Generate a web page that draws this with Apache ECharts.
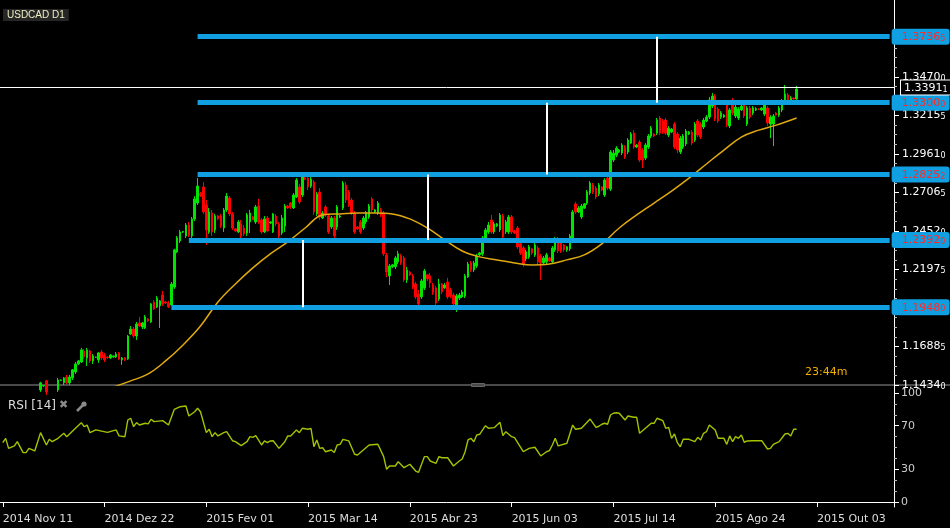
<!DOCTYPE html>
<html><head><meta charset="utf-8">
<script src="https://cdn.jsdelivr.net/npm/echarts@6/dist/echarts.min.js"></script>
<style>html,body{margin:0;padding:0;background:#000;}#c{width:950px;height:528px;}</style>
</head><body><div id="c"></div>
<script>
// ---------- data ----------
const symbolName = 'USDCAD D1';
const firstBarDate = '2014-11-12';   // bars Sun..Fri, one category per bar
const barCount = 308;                 // incl. empty future bars
const tickLabels = ['2014 Nov 11','2014 Dez 22','2015 Fev 01','2015 Mar 14','2015 Abr 23','2015 Jun 03','2015 Jul 14','2015 Ago 24','2015 Out 03'];
const firstTick = 1, tickEvery = 35;
const priceTicks = [1.1434, 1.16885, 1.1943, 1.21975, 1.2452, 1.27065, 1.2961, 1.32155, 1.3470];
const rsiTicks = [0, 30, 70, 100];
const rsiMinor = [10, 20, 40, 50, 60, 80, 90];
const candleStart = 14;
// [open, close, low, high]
const candlesNovDec = [
 [1.1401,1.1448,1.1388,1.1455],
 [1.1428,1.1430,1.1422,1.1434],[1.1461,1.1388,1.1368,1.1467],[1.1388,1.1415,1.1362,1.1428],[1.1415,1.1388,1.1375,1.1428],[1.1388,1.1408,1.1368,1.1421],[1.1401,1.1467,1.1388,1.1481],
 [1.1464,1.1467,1.1461,1.1471],[1.1448,1.1481,1.1434,1.1487],[1.1487,1.1448,1.1441,1.1501],[1.1448,1.1487,1.1434,1.1501],[1.1481,1.1534,1.1467,1.1540],[1.1520,1.1573,1.1507,1.1586],
 [1.1573,1.1593,1.1567,1.1600],[1.1586,1.1666,1.1580,1.1679],[1.1659,1.1619,1.1606,1.1672],[1.1613,1.1666,1.1560,1.1679],[1.1659,1.1593,1.1580,1.1666],[1.1593,1.1626,1.1573,1.1639],
 [1.1616,1.1619,1.1613,1.1622],[1.1600,1.1646,1.1580,1.1652],[1.1652,1.1613,1.1600,1.1666],[1.1632,1.1600,1.1586,1.1646],[1.1619,1.1616,1.1606,1.1626],[1.1613,1.1632,1.1606,1.1639],
 [1.1619,1.1626,1.1616,1.1629],[1.1619,1.1639,1.1613,1.1652],[1.1646,1.1606,1.1600,1.1652],[1.1600,1.1613,1.1567,1.1619],[1.1613,1.1600,1.1593,1.1619],[1.1606,1.1758,1.1600,1.1765]
];
const candlesJanFeb = [
 [1.1771,1.1804,1.1765,1.1824],[1.1804,1.1758,1.1745,1.1818],[1.1758,1.1837,1.1732,1.1851],[1.1844,1.1824,1.1818,1.1884],[1.1818,1.1844,1.1804,1.1851],[1.1811,1.1884,1.1804,1.1897],
 [1.1871,1.1857,1.1851,1.1877],[1.1851,1.1970,1.1844,1.1976],[1.1983,1.1937,1.1930,1.1996],[1.1950,1.2009,1.1943,1.2023],[1.1957,1.1990,1.1811,1.1996],[1.2029,1.1970,1.1957,1.2056],
 [1.1983,1.1976,1.1970,1.1990],[1.1976,1.1950,1.1943,1.1990],[1.1963,1.2102,1.1957,1.2115],[1.2082,1.2327,1.2069,1.2334],[1.2314,1.2406,1.2307,1.2419],[1.2386,1.2446,1.2373,1.2459],
 [1.2446,1.2449,1.2439,1.2452],[1.2419,1.2492,1.2406,1.2505],[1.2492,1.2426,1.2413,1.2512],[1.2419,1.2532,1.2406,1.2545],[1.2532,1.2664,1.2518,1.2683],[1.2637,1.2749,1.2624,1.2802],
 [1.2703,1.2683,1.2677,1.2710],[1.2743,1.2578,1.2565,1.2776],[1.2624,1.2459,1.2360,1.2657],[1.2446,1.2578,1.2433,1.2604],[1.2571,1.2446,1.2419,1.2591],[1.2459,1.2551,1.2439,1.2565],
 [1.2551,1.2532,1.2525,1.2558],[1.2551,1.2485,1.2472,1.2565],[1.2472,1.2591,1.2446,1.2604],[1.2591,1.2683,1.2578,1.2703],[1.2670,1.2565,1.2551,1.2683],[1.2565,1.2472,1.2459,1.2578]
];
const candlesMarApr = [
 [1.2466,1.2452,1.2446,1.2472],[1.2446,1.2512,1.2439,1.2525],[1.2499,1.2419,1.2373,1.2525],[1.2472,1.2433,1.2419,1.2492],[1.2439,1.2558,1.2419,1.2571],[1.2512,1.2571,1.2439,1.2591],
 [1.2545,1.2525,1.2525,1.2551],[1.2512,1.2611,1.2499,1.2624],[1.2617,1.2512,1.2499,1.2664],[1.2525,1.2446,1.2433,1.2538],[1.2446,1.2532,1.2439,1.2551],[1.2538,1.2452,1.2446,1.2551],
 [1.2505,1.2512,1.2499,1.2518],[1.2446,1.2565,1.2439,1.2571],[1.2551,1.2499,1.2485,1.2565],[1.2499,1.2419,1.2406,1.2512],[1.2439,1.2538,1.2426,1.2558],[1.2485,1.2617,1.2446,1.2631],
 [1.2617,1.2604,1.2598,1.2624],[1.2637,1.2611,1.2598,1.2644],[1.2604,1.2690,1.2598,1.2703],[1.2677,1.2789,1.2670,1.2802],[1.2743,1.2644,1.2631,1.2763],[1.2690,1.2809,1.2677,1.2822],
 [1.2802,1.2795,1.2789,1.2809],[1.2802,1.2743,1.2723,1.2815],[1.2749,1.2795,1.2736,1.2809],[1.2776,1.2578,1.2558,1.2789],[1.2565,1.2697,1.2551,1.2710],[1.2710,1.2545,1.2525,1.2736],
 [1.2538,1.2571,1.2532,1.2584],[1.2611,1.2558,1.2545,1.2624],[1.2551,1.2446,1.2433,1.2565],[1.2479,1.2538,1.2466,1.2551],[1.2538,1.2419,1.2406,1.2551],[1.2479,1.2611,1.2459,1.2624],
 [1.2545,1.2551,1.2538,1.2558],[1.2604,1.2769,1.2591,1.2782],[1.2756,1.2657,1.2637,1.2776],[1.2710,1.2624,1.2611,1.2723],[1.2657,1.2571,1.2558,1.2670],[1.2571,1.2446,1.2433,1.2584],
 [1.2479,1.2466,1.2459,1.2485],[1.2512,1.2446,1.2433,1.2525],[1.2472,1.2538,1.2459,1.2551],[1.2512,1.2571,1.2499,1.2584],[1.2545,1.2617,1.2532,1.2631],[1.2664,1.2591,1.2578,1.2677],
 [1.2578,1.2591,1.2571,1.2598],[1.2571,1.2637,1.2558,1.2650],[1.2591,1.2558,1.2545,1.2604],[1.2571,1.2301,1.2287,1.2584],[1.2294,1.2181,1.2148,1.2307],[1.2155,1.2221,1.2095,1.2234],
 [1.2215,1.2228,1.2208,1.2234],[1.2215,1.2274,1.2201,1.2287],[1.2248,1.2301,1.2234,1.2320],[1.2287,1.2241,1.2228,1.2301],[1.2274,1.2129,1.2115,1.2287],[1.2129,1.2195,1.2109,1.2215],
 [1.2181,1.2162,1.2155,1.2188],[1.2155,1.2082,1.2069,1.2168],[1.2102,1.2016,1.2003,1.2115],[1.2036,1.1970,1.1957,1.2062],[1.2016,1.2122,1.2003,1.2135],[1.2076,1.2188,1.2062,1.2201],
 [1.2162,1.2135,1.2122,1.2168],[1.2155,1.2109,1.2076,1.2175],[1.2095,1.2043,1.2029,1.2109],[1.2076,1.1976,1.1963,1.2089],[1.2003,1.2102,1.1990,1.2135],[1.2102,1.2049,1.2036,1.2109]
];
const candlesMayJun = [
 [1.2076,1.2095,1.2069,1.2109],[1.2115,1.2016,1.2003,1.2142],[1.2062,1.2023,1.2009,1.2076],[1.2029,1.1970,1.1950,1.2043],[1.1963,1.2023,1.1917,1.2036],[1.2009,1.2029,1.1996,1.2043],
 [1.2016,1.2049,1.2009,1.2062],[1.2023,1.2155,1.2009,1.2168],[1.2148,1.2234,1.2142,1.2248],[1.2241,1.2195,1.2181,1.2254],[1.2195,1.2241,1.2181,1.2254],[1.2221,1.2287,1.2208,1.2301],
 [1.2294,1.2307,1.2287,1.2314],[1.2301,1.2406,1.2287,1.2419],[1.2393,1.2459,1.2380,1.2472],[1.2446,1.2492,1.2433,1.2512],[1.2525,1.2446,1.2433,1.2558],[1.2446,1.2499,1.2433,1.2512],
 [1.2485,1.2499,1.2479,1.2505],[1.2459,1.2558,1.2446,1.2571],[1.2551,1.2413,1.2373,1.2565],[1.2446,1.2512,1.2433,1.2525],[1.2446,1.2545,1.2433,1.2558],[1.2545,1.2446,1.2433,1.2558],
 [1.2452,1.2439,1.2433,1.2459],[1.2472,1.2347,1.2334,1.2485],[1.2367,1.2307,1.2294,1.2380],[1.2340,1.2234,1.2215,1.2353],[1.2268,1.2314,1.2254,1.2327],[1.2281,1.2347,1.2268,1.2360],
 [1.2334,1.2307,1.2294,1.2340],[1.2294,1.2360,1.2281,1.2373],[1.2340,1.2248,1.2228,1.2353],[1.2287,1.2241,1.2129,1.2301],[1.2241,1.2274,1.2228,1.2287],[1.2248,1.2294,1.2234,1.2307],
 [1.2274,1.2254,1.2248,1.2281],[1.2248,1.2340,1.2234,1.2353],[1.2327,1.2393,1.2314,1.2413],[1.2400,1.2320,1.2307,1.2413],[1.2373,1.2320,1.2307,1.2386],[1.2360,1.2327,1.2314,1.2367],
 [1.2327,1.2347,1.2314,1.2353],[1.2334,1.2419,1.2320,1.2433],[1.2406,1.2578,1.2393,1.2591],[1.2631,1.2578,1.2565,1.2644],[1.2578,1.2604,1.2571,1.2617],[1.2545,1.2617,1.2532,1.2631]
];
const candlesJulAug = [
 [1.2604,1.2631,1.2598,1.2637],[1.2637,1.2710,1.2624,1.2723],[1.2703,1.2769,1.2690,1.2782],[1.2756,1.2710,1.2697,1.2769],[1.2736,1.2677,1.2664,1.2749],[1.2697,1.2756,1.2683,1.2769],
 [1.2743,1.2723,1.2716,1.2749],[1.2690,1.2789,1.2677,1.2802],[1.2802,1.2736,1.2723,1.2815],[1.2729,1.2974,1.2716,1.2987],[1.2921,1.2967,1.2908,1.2987],[1.2954,1.3000,1.2941,1.3013],
 [1.2974,1.2987,1.2967,1.2994],[1.2967,1.3020,1.2954,1.3033],[1.3007,1.2941,1.2928,1.3020],[1.2974,1.3053,1.2961,1.3066],[1.3033,1.3093,1.3027,1.3106],[1.3099,1.3007,1.2994,1.3119],
 [1.3007,1.3020,1.3000,1.3027],[1.3040,1.2921,1.2908,1.3053],[1.2987,1.2921,1.2868,1.3000],[1.2934,1.3020,1.2921,1.3033],[1.3007,1.3080,1.2994,1.3093],[1.3080,1.3132,1.3066,1.3146],
 [1.3093,1.3080,1.3073,1.3099],[1.3099,1.3185,1.3086,1.3199],[1.3199,1.3099,1.3086,1.3212],[1.3179,1.3106,1.3093,1.3192],[1.3185,1.3099,1.3086,1.3199],[1.3086,1.3132,1.3073,1.3146],
 [1.3106,1.3126,1.3099,1.3132],[1.3159,1.3007,1.2994,1.3172],[1.3093,1.2987,1.2967,1.3106],[1.2974,1.3066,1.2961,1.3080],[1.3007,1.3080,1.2994,1.3093],[1.3027,1.3113,1.3013,1.3126],
 [1.3093,1.3106,1.3086,1.3113],[1.3106,1.3033,1.3020,1.3119],[1.3053,1.3159,1.3040,1.3172],[1.3179,1.3086,1.3073,1.3192],[1.3159,1.3073,1.3060,1.3172],[1.3139,1.3185,1.3126,1.3199],
 [1.3179,1.3205,1.3172,1.3218],[1.3205,1.3318,1.3192,1.3338],[1.3278,1.3344,1.3265,1.3364],[1.3344,1.3192,1.3179,1.3358],[1.3258,1.3179,1.3166,1.3271],[1.3205,1.3232,1.3192,1.3245]
];
const candlesSep = [
 [1.3205,1.3218,1.3199,1.3225],[1.3305,1.3152,1.3139,1.3318],[1.3146,1.3252,1.3132,1.3265],[1.3318,1.3232,1.3218,1.3331],[1.3212,1.3271,1.3199,1.3285],[1.3199,1.3258,1.3185,1.3271],
 [1.3252,1.3278,1.3245,1.3291],[1.3291,1.3212,1.3199,1.3305],[1.3159,1.3265,1.3146,1.3278],[1.3265,1.3205,1.3192,1.3278],[1.3232,1.3265,1.3218,1.3278],[1.3252,1.3261,1.3245,1.3271],
 [1.3258,1.3255,1.3252,1.3265],[1.3252,1.3265,1.3245,1.3271],[1.3225,1.3285,1.3212,1.3298],[1.3265,1.3166,1.3146,1.3278],[1.3159,1.3205,1.3066,1.3218],[1.3159,1.3212,1.3013,1.3225],
 [1.3232,1.3218,1.3212,1.3238],[1.3218,1.3265,1.3205,1.3278],[1.3252,1.3311,1.3238,1.3325],[1.3298,1.3358,1.3285,1.3417],[1.3351,1.3318,1.3305,1.3364],[1.3318,1.3331,1.3305,1.3344],
 [1.3331,1.3325,1.3321,1.3334],[1.3325,1.3391,1.3318,1.3411]
];
// moving average, sampled on each Sunday bar from bar 39
const maStart = 39, maStep = 6;
const maWeekly = [1.1420,1.1461,1.1507,1.1593,1.1699,1.1824,1.1983,1.2102,1.2208,1.2301,1.2380,1.2472,1.2558,1.2565,1.2571,1.2571,1.2565,1.2532,1.2472,1.2393,1.2320,1.2281,1.2261,1.2241,1.2228,1.2234,1.2261,1.2294,1.2367,1.2472,1.2558,1.2637,1.2716,1.2802,1.2895,1.2987,1.3073,1.3119,1.3152];
const maLast = 1.3199;
// RSI(14), one entry per bar (null = not read)
const rsiValues = [
 null,54.4,58.4,
 49.2,null,51.4,55.3,null,45.3,  45.3,49.2,null,46.8,null,63.6,  null,52.3,57.5,55.3,null,58.4,
 null,63.0,59.9,null,null,67.6,  null,72.8,69.1,70.6,63.6,null,  66.1,null,null,null,63.9,null,
 null,66.1,60.6,null,59.9,75.2,  76.8,69.1,72.8,70.6,null,72.2,  71.6,75.9,73.7,null,null,74.6,
 null,70.6,null,85.0,null,87.4,  null,88.1,78.9,null,82.8,86.0,  82.8,null,63.6,66.7,59.9,63.6,
 60.6,null,63.6,64.5,null,56.2,  55.3,null,51.7,null,55.3,59.9,  59.3,60.8,null,52.3,56.0,54.4,
 56.0,56.2,null,49.2,null,55.3,  60.6,60.6,null,66.1,63.6,67.6,  null,66.7,67.6,50.7,56.9,49.2,
 49.8,46.1,null,47.7,45.3,52.3,  52.9,57.5,null,56.0,null,43.8,  43.1,null,47.7,null,52.3,null,
 null,52.9,null,41.6,30.0,33.0,  null,33.0,37.0,null,31.5,null,  34.6,null,28.4,27.2,null,41.6,
 41.6,37.6,null,35.5,41.6,40.6,  null,40.6,null,33.0,null,37.6,  39.4,46.1,56.9,58.4,55.3,61.5,
 62.1,null,70.0,67.6,null,68.2,  null,73.1,60.8,64.5,null,59.9,  59.0,null,null,46.1,null,49.2,
 null,50.2,null,42.2,null,46.1,  47.1,52.3,58.4,51.4,null,null,  53.9,null,70.6,66.7,null,67.6,
 null,null,76.1,null,68.5,69.5,  71.3,72.2,71.3,79.8,81.4,81.9,  81.4,null,75.2,78.9,null,77.7,
 77.7,63.0,null,67.6,null,72.2,  72.2,76.8,null,74.6,67.6,68.5,  58.4,62.4,54.4,50.7,57.5,null,
 57.5,null,55.3,59.3,56.9,63.0,  64.5,70.6,null,66.1,58.4,null,  58.4,52.9,60.6,55.3,59.9,58.4,
 61.5,54.8,56.0,null,56.2,null,  null,56.2,null,48.6,49.2,52.9,  null,55.3,null,62.4,63.0,60.6,
 66.7,66.7
];
// drawn price levels and measuring lines
const levels = [1.37365, 1.33000, 1.28252, 1.23920, 1.19480];
const levelStartBar = [68, 68, 68, 65, 59];
const levelEndBar = 306;
const measures = [[104, 1.19480, 1.23920], [147, 1.23920, 1.28252], [188, 1.28252, 1.33000], [226, 1.33000, 1.37365]];
const lastPrice = 1.33911;
const countdown = '23:44m';

// ---------- build ----------
const cats = [];
{ const d = new Date(firstBarDate + 'T00:00:00Z');
  while (cats.length < barCount) { if (d.getUTCDay() !== 6) cats.push(d.toISOString().slice(0, 10)); d.setUTCDate(d.getUTCDate() + 1); } }
const allCandles = [].concat(candlesNovDec, candlesJanFeb, candlesMarApr, candlesMayJun, candlesJulAug, candlesSep);
const candleData = allCandles.map((c, i) => [candleStart + i, c[0], c[1], c[2], c[3]]);
const maData = maWeekly.map((v, k) => [maStart + maStep * k, v]).concat([[candleStart + allCandles.length - 1, maLast]]);
const rsiData = rsiValues.map((v, i) => v == null ? null : [i, v]).filter(Boolean);

const minorTicks = [];
{ const step = priceTicks[1] - priceTicks[0];
  for (let i = 0; i < priceTicks.length - 1; i++) for (let j = 1; j < 4; j++) minorTicks.push(priceTicks[i] + (priceTicks[i + 1] - priceTicks[i]) * j / 4);
  for (let j = 1; j < 4; j++) minorTicks.push(priceTicks[priceTicks.length - 1] + step * j / 4); }

const FONT = '"DejaVu Sans", Verdana, sans-serif';
function splitPrice(v) { const s = v.toFixed(5); return '{n|' + s.slice(0, 6) + '}{s|' + s.slice(6) + '}'; }
const whiteRich = { n: { color: '#ffffff', fontSize: 11, fontFamily: FONT }, s: { color: '#ffffff', fontSize: 8, fontFamily: FONT, padding: [3, 0, 0, 0] } };
const redRich = { n: { color: '#ff2a2a', fontSize: 11, fontFamily: FONT }, s: { color: '#ff2a2a', fontSize: 8, fontFamily: FONT, padding: [3, 0, 0, 0] } };

const PMIN = 1.1434, PMAX = 1.3979;
const blue = '#10a0e2';
const markData = [];
levels.forEach((lv, i) => {
  markData.push([
    { coord: [levelStartBar[i], lv], lineStyle: { color: blue, width: 5, type: 'solid', cap: 'butt' },
      label: { show: true, position: 'end', distance: 2, formatter: () => splitPrice(lv), rich: redRich,
               backgroundColor: blue, borderRadius: 3, padding: [3, 6, 2, 10], width: 42 } },
    { coord: [levelEndBar, lv] }
  ]);
});
measures.forEach(m => {
  markData.push([
    { coord: [m[0], m[1]], lineStyle: { color: '#ffffff', width: 2, type: 'solid' }, label: { show: false } },
    { coord: [m[0], m[2]] }
  ]);
});
markData.push({ yAxis: lastPrice, lineStyle: { color: '#ffffff', width: 1, type: 'solid' },
  label: { show: true, position: 'end', distance: 7, formatter: () => splitPrice(lastPrice), rich: whiteRich,
           backgroundColor: '#000', borderColor: '#fff', borderWidth: 1, padding: [2, 5, 1, 3] } });

const chart = echarts.init(document.getElementById('c'), null, { renderer: 'canvas' });
chart.setOption({
  backgroundColor: '#000000',
  animation: false,
  grid: [
    { left: -1.6, right: 56, top: 0, height: 385, containLabel: false, outerBoundsMode: 'none' },
    { left: -1.6, right: 56, top: 386, height: 121, containLabel: false, outerBoundsMode: 'none' }
  ],
  xAxis: [
    { type: 'category', gridIndex: 0, data: cats, boundaryGap: true, show: false },
    { type: 'category', gridIndex: 1, data: cats, boundaryGap: true,
      axisLine: { show: true, lineStyle: { color: '#ffffff', width: 1 } },
      axisTick: { show: true, alignWithLabel: true, length: 5, lineStyle: { color: '#ffffff' },
                  interval: (i) => i >= firstTick && (i - firstTick) % tickEvery === 0 && (i - firstTick) / tickEvery < tickLabels.length },
      axisLabel: { show: true, align: 'left', margin: 7, color: '#dddddd', fontSize: 11, fontFamily: FONT,
                   interval: (i) => i >= firstTick && (i - firstTick) % tickEvery === 0 && (i - firstTick) / tickEvery < tickLabels.length,
                   formatter: (v, i) => tickLabels[(i - firstTick) / tickEvery] || '' },
      splitLine: { show: false } }
  ],
  yAxis: [
    { type: 'value', gridIndex: 0, position: 'right', min: PMIN, max: PMAX,
      axisLine: { show: true, lineStyle: { color: '#ffffff' } },
      axisTick: { show: true, length: 5, customValues: priceTicks, lineStyle: { color: '#ffffff' } },
      axisLabel: { show: true, margin: 8, customValues: priceTicks, formatter: (v) => splitPrice(v), rich: whiteRich },
      splitLine: { show: false } },
    { type: 'value', gridIndex: 0, position: 'right', min: PMIN, max: PMAX,
      axisLine: { show: false }, axisLabel: { show: false }, splitLine: { show: false },
      axisTick: { show: true, length: 3, customValues: minorTicks, lineStyle: { color: '#bbbbbb' } } },
    { type: 'value', gridIndex: 1, position: 'right', min: -4.6, max: 106.4,
      axisLine: { show: true, lineStyle: { color: '#ffffff' } },
      axisTick: { show: true, length: 5, customValues: rsiTicks, lineStyle: { color: '#ffffff' } },
      axisLabel: { show: true, margin: 7, customValues: rsiTicks, color: '#cccccc', fontSize: 11, fontFamily: FONT },
      splitLine: { show: false } },
    { type: 'value', gridIndex: 1, position: 'right', min: -4.6, max: 106.4,
      axisLine: { show: false }, axisLabel: { show: false }, splitLine: { show: false },
      axisTick: { show: true, length: 3, customValues: rsiMinor, lineStyle: { color: '#bbbbbb' } } }
  ],
  series: [
    { type: 'candlestick', xAxisIndex: 0, yAxisIndex: 0, data: candleData, encode: { x: 0, y: [1, 2, 3, 4] },
      barWidth: 2, clip: true, silent: true,
      itemStyle: { color: '#00e400', color0: '#ff0000', borderColor: '#00e400', borderColor0: '#ff0000', borderWidth: 1 },
      markLine: { symbol: ['none', 'none'], silent: true, animation: false, data: markData } },
    { type: 'line', xAxisIndex: 0, yAxisIndex: 0, data: maData, showSymbol: false, smooth: 0.4, clip: true, silent: true,
      lineStyle: { color: '#e0a90f', width: 1.5 }, z: 3 },
    { type: 'line', xAxisIndex: 1, yAxisIndex: 2, data: rsiData, showSymbol: false, clip: true, silent: true,
      lineStyle: { color: '#a2c400', width: 1.4 } }
  ],
  graphic: [
    { type: 'rect', left: 0, top: 384, shape: { width: 950, height: 2 }, style: { fill: '#4a4a4a' }, silent: true },
    { type: 'rect', left: 469, top: 381, shape: { width: 13, height: 3 }, style: { fill: 'none', stroke: '#666', lineWidth: 1 }, silent: true },
    { type: 'text', left: 3, top: 9, style: { text: symbolName, fill: '#eeeec4', font: '10px "Liberation Sans", Arial, sans-serif', backgroundColor: '#262626', padding: [1, 4, 1, 4] } },
    { type: 'text', left: 805, top: 367, style: { text: countdown, fill: '#f0b000', font: '11px ' + FONT } },
    { type: 'text', left: 8, top: 400, style: { text: 'RSI [14]', fill: '#dddddd', font: '12px ' + FONT } },
    { type: 'text', left: 59, top: 400, style: { text: '✖', fill: '#8a8a8a', font: '11px ' + FONT } },
    { type: 'line', shape: { x1: 77, y1: 411, x2: 83, y2: 405 }, style: { stroke: '#8a8a8a', lineWidth: 2.5 } },
    { type: 'circle', shape: { cx: 84, cy: 404, r: 2.6 }, style: { fill: '#8a8a8a' } }
  ]
});
</script>
</body></html>
